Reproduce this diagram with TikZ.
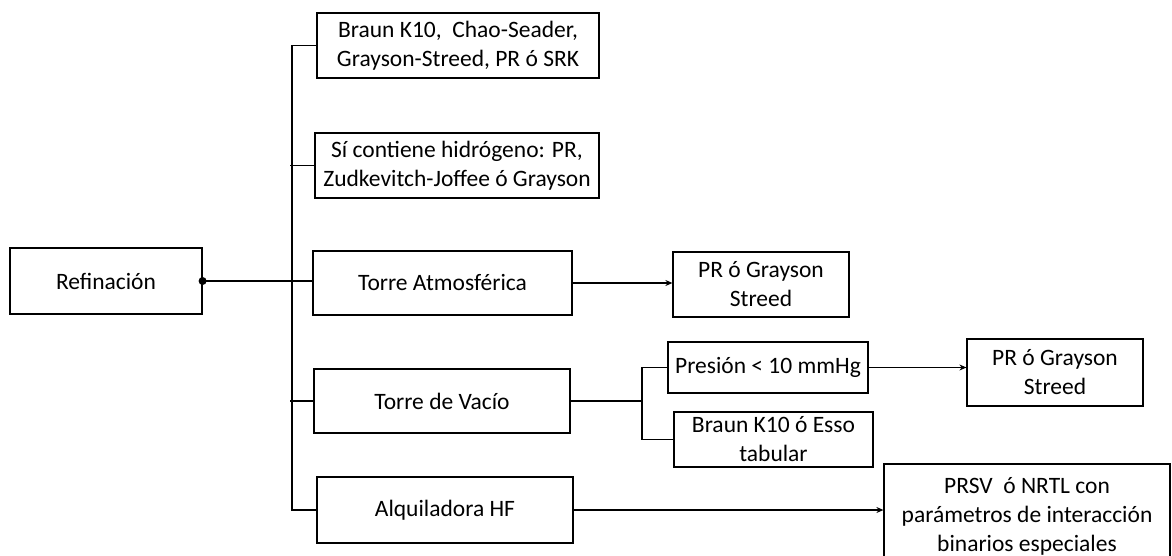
\documentclass[tikz,border=0pt]{standalone}
\usepackage{fontspec}
\setmainfont{Carlito}
\usetikzlibrary{arrows.meta}
\begin{document}
\begin{tikzpicture}[x=1pt,y=-1pt,
  box/.style={draw,line width=1.2pt,inner sep=0pt,align=center,
    font=\fontsize{23.5}{29}\selectfont},
  link/.style={line width=1.2pt},
  arr/.style={link,-{Stealth[length=7pt,width=6pt]}}]
\useasboundingbox (0,0) rectangle (1172,556);
\clip (0,0) rectangle (1172,556);
\fill[white] (0,0) rectangle (1172,556);

% main node and its branches
\node[box,minimum width=192pt,minimum height=66pt] (ref) at (106,281) {Refinación};
\node[box,minimum width=282pt,minimum height=65pt] (b1) at (458,45.5) {Braun K10,\ \ Chao-Seader,\\Grayson-Streed, PR ó SRK};
\node[box,minimum width=284pt,minimum height=65pt] (b2) at (457,165.5) {Sí contiene hidrógeno: PR,\\Zudkevitch-Joffee ó Grayson};
\node[box,minimum width=259pt,minimum height=64pt] (b3) at (442.5,283) {Torre Atmosférica};
\node[box,minimum width=256pt,minimum height=64pt] (b4) at (442,401) {Torre de Vacío};
\node[box,minimum width=256pt,minimum height=66pt] (b5) at (445,510) {Alquiladora HF};

% second level
\node[box,minimum width=176pt,minimum height=65pt] (p1) at (761,284.5) {PR ó Grayson\\Streed};
\node[box,minimum width=200pt,minimum height=51pt] (pres) at (768,367.5) {Presión < 10 mmHg};
\node[box,minimum width=199pt,minimum height=55pt] (braun) at (773.5,439.5) {Braun K10 ó Esso\\tabular};
\node[box,minimum width=176pt,minimum height=67pt] (p2) at (1055,372.5) {PR ó Grayson\\Streed};
\node[box,minimum width=286pt,minimum height=104pt] (prsv) at (1027,516) {PRSV\ \ ó NRTL con\\parámetros de interacción\\binarios especiales};

% vertical bus joining the branches
\coordinate (bus) at (292,0);
\draw[link] (b1.west) -| (bus |- b5.west) -- (b5.west);
\draw[link] ([xshift=-2pt]bus |- b2.west) -- (b2.west);
\draw[link] ([xshift=-2pt]bus |- b4.west) -- (b4.west);
\draw[link] (ref.east) -- (ref.east -| b3.west);
\fill (ref.east) circle (4pt);

% atmospheric tower
\draw[arr] (b3.east) -- (b3.east -| p1.west);

% vacuum tower split
\coordinate (vj) at (642,0);
\draw[link] (b4.east) -- (vj |- b4.east);
\draw[link] (pres.west) -| (vj |- braun.west) -- (braun.west);
\draw[arr] (pres.east) -- (pres.east -| p2.west);

% HF alkylation
\draw[arr] (b5.east) -- (b5.east -| prsv.west);
\end{tikzpicture}
\end{document}
